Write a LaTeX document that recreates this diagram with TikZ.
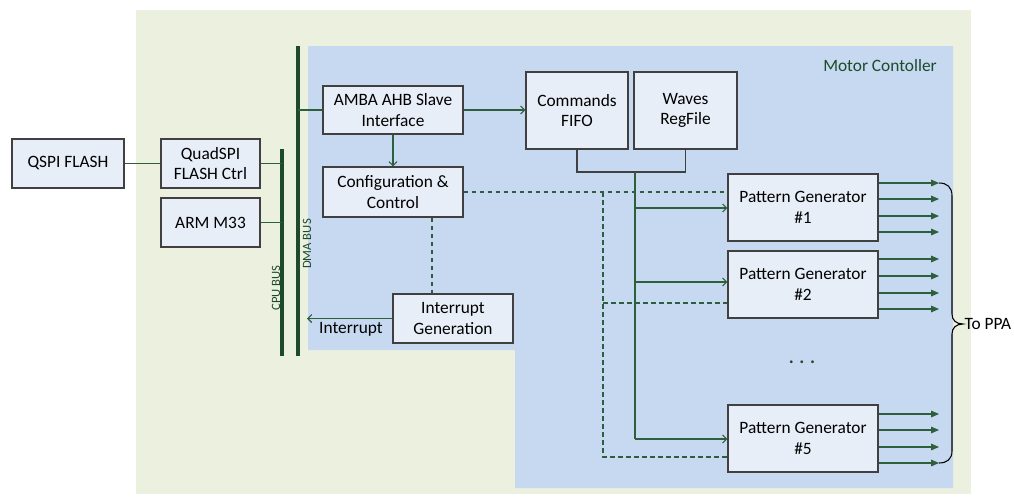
\documentclass[tikz,border=0pt]{standalone}
\usepackage{fontspec}
\setmainfont{Carlito}
\usetikzlibrary{arrows.meta}
\definecolor{bggreen}{HTML}{EBF1DE}
\definecolor{bgblue}{HTML}{C6D9F1}
\definecolor{boxfill}{HTML}{E7EEF8}
\definecolor{boxline}{HTML}{404040}
\definecolor{dgreen}{HTML}{1D4A2A}
\definecolor{lgreen}{HTML}{2E5F3C}
\begin{document}
\begin{tikzpicture}[x=0.75pt,y=-0.75pt,
  box/.style={draw=boxline, line width=1.1pt, fill=boxfill, align=center, inner sep=0pt,
              font=\fontsize{13}{15.5}\selectfont},
  conn/.style={draw=lgreen, line width=0.8pt},
  dconn/.style={conn, dash pattern=on 3.5pt off 2.5pt},
  openarr/.style={-{Straight Barb[length=3pt,width=6pt]}},
  outarr/.style={-{Triangle[length=6pt,width=5pt]}},
  bus/.style={draw=dgreen, line width=3pt},
  lbl/.style={font=\fontsize{13}{15.5}\selectfont},
  buslbl/.style={rotate=90, text=dgreen, font=\fontsize{9.5}{10}\selectfont, inner sep=0pt},
  gray/.style={draw=boxline, line width=1pt},
]
\useasboundingbox (0,0) rectangle (1014,497);
% backgrounds
\fill[bggreen] (136,10) rectangle (971,494);
\fill[bgblue] (308,46) -- (953,46) -- (953,488) -- (515,488) -- (515,350) -- (308,350) -- cycle;
\node[lbl, text=dgreen] (mctitle) at (880,66) {Motor Contoller};

% buses
\coordinate (cpuTop) at (282,149);
\coordinate (cpuBot) at (282,356);
\coordinate (dmaTop) at (298,46);
\coordinate (dmaBot) at (298,356);
\draw[bus] (cpuTop) -- (cpuBot);
\draw[bus] (dmaTop) -- (dmaBot);
\node[buslbl] (cpulbl) at (276,288) {CPU BUS};
\node[buslbl] (dmalbl) at (307,244) {DMA BUS};

% boxes
\node[box, minimum width=84pt, minimum height=36.75pt] (qspi) at (68,163.5) {QSPI FLASH};
\node[box, minimum width=74.25pt, minimum height=36.75pt] (quad) at (210.5,163.5) {QuadSPI\\FLASH Ctrl};
\node[box, minimum width=74.25pt, minimum height=36.75pt] (arm) at (210.5,222.5) {ARM M33};
\node[box, minimum width=105pt, minimum height=36pt] (amba) at (393,110) {AMBA AHB Slave\\Interface};
\node[box, minimum width=105pt, minimum height=37.5pt] (cfg) at (393,192) {Configuration \&\\Control};
\node[box, minimum width=90pt, minimum height=36.75pt] (intg) at (453,318.5) {Interrupt\\Generation};
\node[box, minimum width=76.5pt, minimum height=57.75pt] (cmd) at (577,110.5) {Commands\\FIFO};
\node[box, minimum width=77.25pt, minimum height=57.75pt] (wav) at (685.5,110.5) {Waves\\RegFile};
\node[box, minimum width=112.5pt, minimum height=50.25pt] (pg1) at (803,207.5) {Pattern Generator\\\#1};
\node[box, minimum width=112.5pt, minimum height=50.25pt] (pg2) at (803,284.5) {Pattern Generator\\\#2};
\node[box, minimum width=112.5pt, minimum height=50.25pt] (pg5) at (803,438.5) {Pattern Generator\\\#5};
\node[text=dgreen, font=\fontsize{14}{14}\selectfont\bfseries] (dots) at (802,362) {.\hspace{4.2pt}.\hspace{4.2pt}.};

% left side connections
\draw[conn] (qspi.east) -- (quad.west);
\draw[conn] (quad.east) -- (quad.east -| cpuTop);
\draw[conn] (arm.east) -- (arm.east -| cpuTop);
\draw[conn] (amba.west) -- (amba.west -| dmaTop);
\draw[conn, openarr] (amba.east) -- (amba.east -| cmd.west);
\draw[conn, openarr] (amba.south) -- (cfg.north);
\draw[conn, openarr] (intg.west) -- (intg.west -| 307,0);
\node[lbl, anchor=north] (intlbl) at (351,318) {Interrupt};
\draw[dconn] (cfg.south -| 432,0) -- (intg.north -| 432,0);

% FIFO / RegFile join
\coordinate (jn) at (635,172);
\draw[gray] (cmd.south) |- (jn) -| (wav.south);
\draw[conn] (jn) -- (jn |- 0,439);
\draw[conn, openarr] (jn |- 0,208) -- (pg1.west |- 0,208);
\draw[conn, openarr] (jn |- 0,282) -- (pg2.west |- 0,282);
\draw[conn, openarr] (jn |- 0,439) -- (pg5.west |- 0,439);

% dashed control lines
\coordinate (dv) at (603,192);
\draw[dconn] (cfg.east) -- (cfg.east -| pg1.west);
\draw[dconn] (dv) -- (dv |- 0,457) -- (pg5.west |- 0,457);
\draw[dconn] (dv |- 0,303) -- (pg2.west |- 0,303);

% outputs
\foreach \y in {183,199,216,232} { \draw[conn, outarr] (pg1.east |- 0,\y) -- (939,\y); }
\foreach \y in {259,276,293,309} { \draw[conn, outarr] (pg2.east |- 0,\y) -- (939,\y); }
\foreach \y in {414,430,447,463} { \draw[conn, outarr] (pg5.east |- 0,\y) -- (939,\y); }

% brace
\draw[black, line width=0.8pt] (939,183) .. controls (947,183) and (952,187) .. (952,196)
  -- (952,314) .. controls (952,320) and (956,324) .. (963,324)
  .. controls (956,324) and (952,328) .. (952,334)
  -- (952,451) .. controls (952,459) and (947,463) .. (939,463);
\node[lbl, anchor=west, inner sep=1pt] (toppa) at (963,324) {To PPA};
\end{tikzpicture}
\end{document}
